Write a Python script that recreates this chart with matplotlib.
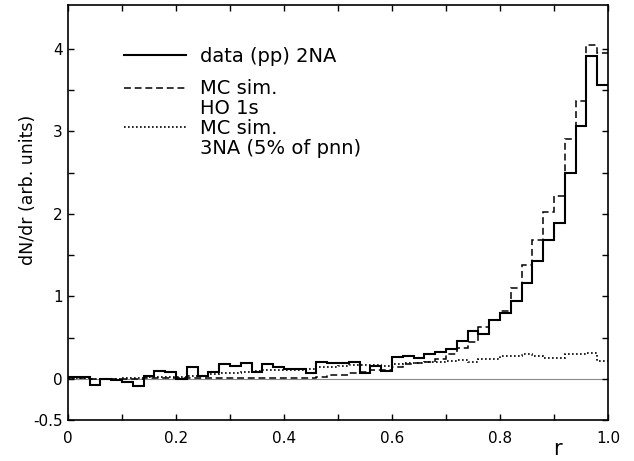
import numpy as np
import matplotlib
matplotlib.use("Agg")
import matplotlib.pyplot as plt
from matplotlib.lines import Line2D

# r distribution, 50 bins of width 0.02 between 0 and 1
bin_edges = np.linspace(0.0, 1.0, 51)

# data (pp) 2NA
data_2na = [0.02, 0.02, -0.07, 0.00, -0.01, -0.04, -0.08, 0.04, 0.10, 0.08,
            0.00, 0.14, 0.04, 0.08, 0.18, 0.16, 0.19, 0.08, 0.18, 0.14,
            0.12, 0.12, 0.07, 0.21, 0.20, 0.19, 0.21, 0.07, 0.16, 0.10,
            0.27, 0.28, 0.26, 0.30, 0.33, 0.36, 0.46, 0.58, 0.54, 0.72,
            0.80, 0.94, 1.16, 1.43, 1.69, 1.89, 2.49, 3.06, 3.91, 3.56]

# MC simulation, HO 1s
mc_ho1s = [0.01, 0.01, 0.00, 0.00, 0.00, 0.00, 0.00, 0.01, 0.01, 0.01,
           0.01, 0.01, 0.01, 0.01, 0.01, 0.01, 0.01, 0.01, 0.01, 0.01,
           0.01, 0.01, 0.01, 0.02, 0.05, 0.05, 0.07, 0.08, 0.11, 0.11,
           0.15, 0.18, 0.20, 0.21, 0.24, 0.30, 0.37, 0.45, 0.63, 0.72,
           0.82, 1.10, 1.38, 1.68, 2.02, 2.22, 2.91, 3.37, 4.05, 3.95]

# MC simulation, 3NA (5% of pnn)
mc_3na = [0.01, 0.01, 0.00, 0.00, 0.00, 0.01, 0.01, 0.02, 0.03, 0.03,
          0.03, 0.04, 0.04, 0.06, 0.07, 0.07, 0.08, 0.10, 0.11, 0.11,
          0.11, 0.11, 0.12, 0.15, 0.15, 0.16, 0.17, 0.17, 0.17, 0.16,
          0.18, 0.19, 0.19, 0.21, 0.21, 0.22, 0.23, 0.21, 0.24, 0.24,
          0.28, 0.28, 0.30, 0.28, 0.26, 0.26, 0.30, 0.30, 0.32, 0.22]

xticks = [0.0, 0.1, 0.2, 0.3, 0.4, 0.5, 0.6, 0.7, 0.8, 0.9, 1.0]
xtick_labels = ['0', '', '0.2', '', '0.4', '', '0.6', '', '0.8', '', '1.0']
yticks = [-0.5, 0.0, 0.5, 1.0, 1.5, 2.0, 2.5, 3.0, 3.5, 4.0]
ytick_labels = ['-0.5', '0', '', '1', '', '2', '', '3', '', '4']

plt.rcParams['font.family'] = ['DejaVu Sans']

fig = plt.figure(figsize=(6.34, 4.61), dpi=100)
ax = fig.add_axes([0.1073, 0.0883, 0.8517, 0.9007])

solid_style = dict(color='black', lw=1.5)
dash_style = dict(color='black', lw=1.1, linestyle=(0, (4.5, 2.5)))
dot_style = dict(color='black', lw=1.2, linestyle=(0, (1.0, 1.4)))

ax.axhline(0.0, color='#8a8a8a', lw=0.8, zorder=1)
ax.stairs(mc_3na, bin_edges, baseline=None, zorder=2, **dot_style)
ax.stairs(mc_ho1s, bin_edges, baseline=None, zorder=3, **dash_style)
ax.stairs(data_2na, bin_edges, baseline=None, zorder=4, **solid_style)

ax.set_xlim(0.0, 1.0)
ax.set_ylim(-0.5, 4.53)

ax.set_xticks(xticks)
ax.set_xticklabels(xtick_labels)
ax.set_yticks(yticks)
ax.set_yticklabels(ytick_labels)
ax.tick_params(direction='in', length=4.3, width=1.0, top=True, right=True,
               labelsize=11)
ax.tick_params(axis='x', pad=8)
ax.tick_params(axis='y', pad=4)
for sp in ax.spines.values():
    sp.set_linewidth(1.2)

ax.set_ylabel('dN/dr (arb. units)', fontsize=12.5)
ax.yaxis.set_label_coords(-0.057, 0.554)
ax.set_xlabel('r', fontsize=15)
ax.xaxis.set_label_coords(0.906, -0.045)

# legend: first entry on its own, the two MC entries with a second text line
leg1 = ax.legend([Line2D([], [], **solid_style)], ['data (pp) 2NA'],
                 loc='upper left', bbox_to_anchor=(0.104, 0.899),
                 frameon=False, fontsize=14, handlelength=3.2,
                 handletextpad=0.7, borderpad=0, borderaxespad=0)
ax.add_artist(leg1)
blank = Line2D([], [], color='none')
ax.legend([Line2D([], [], **dash_style), blank,
           Line2D([], [], **dot_style), blank],
          ['MC sim.', 'HO 1s', 'MC sim.', '3NA (5% of pnn)'],
          loc='upper left', bbox_to_anchor=(0.104, 0.821),
          frameon=False, fontsize=14, handlelength=3.2,
          handletextpad=0.7, borderpad=0, borderaxespad=0,
          labelspacing=0.04)

fig.savefig('out.png', dpi=100)
